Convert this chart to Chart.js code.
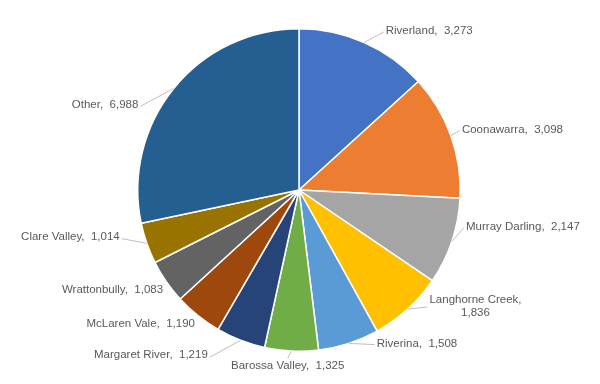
<!DOCTYPE html>
<html>
<head>
<meta charset="utf-8">
<script src="https://cdn.jsdelivr.net/npm/chart.js@4"></script>
<style>
  html, body { margin: 0; padding: 0; background: #fff; }
  .chart-box { width: 600px; height: 384px; }
</style>
</head>
<body>
<div class="chart-box"><canvas id="chart"></canvas></div>
<script>
// hectares by wine region
const regions = ['Riverland', 'Coonawarra', 'Murray Darling', 'Langhorne Creek', 'Riverina',
  'Barossa Valley', 'Margaret River', 'McLaren Vale', 'Wrattonbully', 'Clare Valley', 'Other'];
const plantings = [3273, 3098, 2147, 1836, 1508, 1325, 1219, 1190, 1083, 1014, 6988];
const sliceColors = ['#4472C4', '#ED7D31', '#A5A5A5', '#FFC000', '#5B9BD5',
  '#70AD47', '#264478', '#9E480E', '#636363', '#997300', '#255E91'];

// small shifts so the callouts sit where the original put them
const labelNudge = {
  'Riverland': [11, 3],
  'Coonawarra': [-8, -1],
  'Murray Darling': [-5, -20],
  'Langhorne Creek': [7, -15],
  'Riverina': [19, -15],
  'Barossa Valley': [-3, -8],
  'Margaret River': [-23, 0],
  'McLaren Vale': [11, -4],
  'Wrattonbully': [14, -1],
  'Clare Valley': [-8, -12],
  'Other': [-19, 26],
};

const calloutLabels = {
  id: 'calloutLabels',
  afterDatasetsDraw(chart, args, opts) {
    const ctx = chart.ctx;
    const meta = chart.getDatasetMeta(0);
    const values = chart.data.datasets[0].data;
    ctx.save();
    ctx.font = opts.font;
    ctx.fillStyle = opts.color;
    ctx.strokeStyle = opts.lineColor;
    ctx.lineWidth = 1;
    ctx.textBaseline = 'middle';

    meta.data.forEach((arc, i) => {
      const p = arc.getProps(['x', 'y', 'startAngle', 'endAngle', 'outerRadius'], true);
      const mid = (p.startAngle + p.endAngle) / 2;
      const cos = Math.cos(mid), sin = Math.sin(mid);
      const ex = p.x + cos * p.outerRadius, ey = p.y + sin * p.outerRadius;
      const name = chart.data.labels[i];
      const nudge = opts.nudge[name] || [0, 0];
      const r = p.outerRadius + opts.gap;
      const ax = p.x + cos * r + nudge[0], ay = p.y + sin * r + nudge[1];

      const value = values[i].toLocaleString('en-US');
      const lines = opts.wrap.includes(name) ? [name + ',', value] : [name + ',  ' + value];
      const w = Math.max(...lines.map(l => ctx.measureText(l).width));
      const h = lines.length * opts.lineHeight;

      const atBottom = sin > 0 && Math.abs(cos) < 0.2;
      let left, top, lx, ly;
      if (atBottom) {
        left = ax - w / 2; top = ay;
        lx = ax; ly = top - 1;
      } else if (cos >= 0) {
        left = ax + 4; top = ay - h / 2;
        lx = left - 2; ly = ay + 1;
      } else {
        left = ax - 4 - w; top = ay - h / 2;
        lx = left + w + 2; ly = ay + 2;
      }

      // leader line, except for labels tucked right against their slice
      if (!opts.noLeader.includes(name) && Math.hypot(lx - ex, ly - ey) > 6) {
        ctx.beginPath();
        ctx.moveTo(ex, ey);
        ctx.lineTo(lx, ly);
        ctx.stroke();
      }

      ctx.textAlign = lines.length > 1 ? 'center' : 'left';
      lines.forEach((line, k) => {
        const tx = lines.length > 1 ? left + w / 2 : left;
        ctx.fillText(line, tx, top + opts.lineHeight * (k + 0.5));
      });
    });
    ctx.restore();
  }
};

const ctx = document.getElementById('chart').getContext('2d');
new Chart(ctx, {
  type: 'pie',
  data: {
    labels: regions,
    datasets: [
      {
        data: plantings,
        backgroundColor: sliceColors,
        borderColor: '#ffffff',
        borderWidth: 1.5,
        hoverOffset: 0,
      },
    ],
  },
  options: {
    responsive: true,
    maintainAspectRatio: false,
    animation: false,
    layout: {
      padding: { top: 28, bottom: 32, left: 0, right: 2 },
    },
    plugins: {
      legend: { display: false },
      calloutLabels: {
        font: '11.5px "Liberation Sans", Arial, sans-serif',
        color: '#595959',
        lineColor: '#BFBFBF',
        gap: 16,
        lineHeight: 13,
        wrap: ['Langhorne Creek'],
        noLeader: ['McLaren Vale', 'Wrattonbully'],
        nudge: labelNudge,
      },
    },
  },
  plugins: [calloutLabels],
});
</script>
</body>
</html>
